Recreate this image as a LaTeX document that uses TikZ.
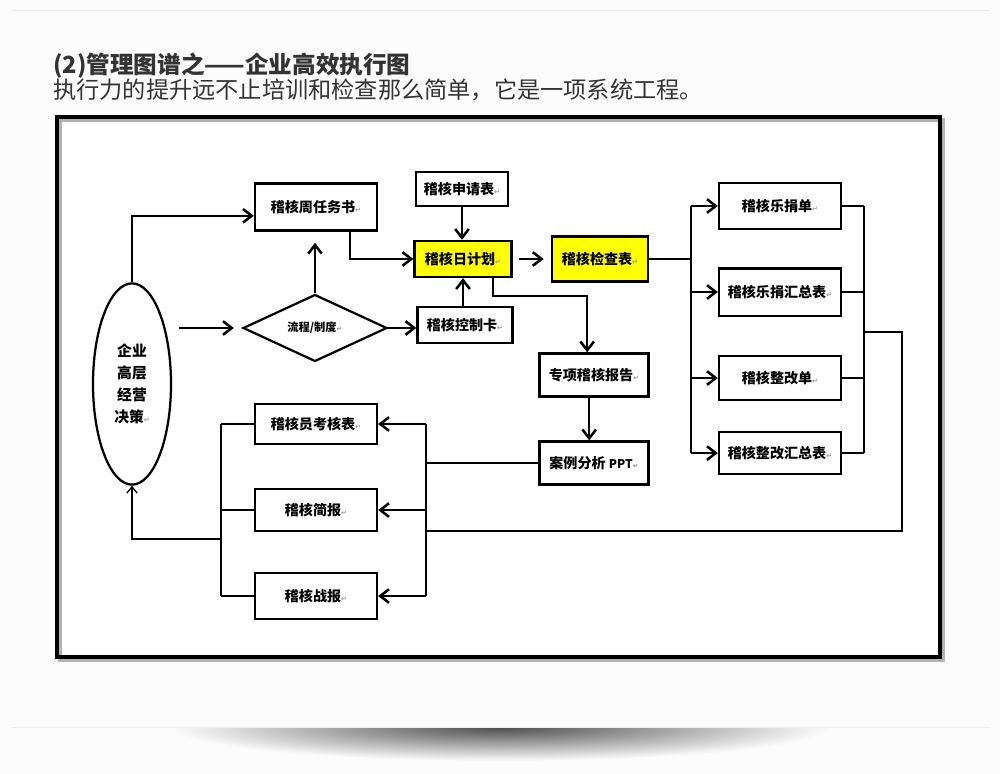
\documentclass[tikz,border=0pt]{standalone}
\usepackage{fontspec}
\setmainfont{Noto Sans CJK SC}
\newfontfamily\markfont{DejaVu Sans}
\usetikzlibrary{shapes,arrows.meta,positioning}
\definecolor{ink}{HTML}{333333}
\definecolor{hl}{HTML}{FFFF00}
\newcommand{\crmark}{{\markfont\fontsize{5}{5}\selectfont\color{black!40}↵}}

\begin{document}
\begin{tikzpicture}[x=0.025cm,y=-0.025cm,node distance=2.15cm,font=\bfseries\fontsize{10}{12}\selectfont]
\tikzstyle{box}=[draw,line width=1.6pt,inner sep=0pt,minimum width=3.05cm,minimum height=1.1cm]
\tikzstyle{hot}=[box,fill=hl]
\tikzstyle{link}=[line width=1.8pt]
\tikzstyle{arr}=[link,-{Straight Barb[length=2.2mm,width=3.4mm]}]
\useasboundingbox (0,0) rectangle (1000,774);
\fill[black!1] (0,0) rectangle (1000,774);
\draw[black!8] (12,10) -- (990,10);
\begin{scope}
\clip (0,727) rectangle (1000,774);
\shade[inner color=black!70,outer color=black!1] (500,727) ellipse (330 and 34);
\end{scope}
\draw[black!8] (12,727) -- (990,727);

\node[anchor=base west,inner sep=0,text=ink,font=\bfseries\fontsize{16.8}{20}\selectfont] (title) at (53,74) {(2)管理图谱之——企业高效执行图};
\node[anchor=base west,inner sep=0,text=ink,font=\mdseries\fontsize{16.5}{20}\selectfont] (sub) at (53,99) {执行力的提升远不止培训和检查那么简单，它是一项系统工程。};

\fill[white] (57,117) rectangle (940,657);
\draw[black!30,line width=3pt] (60,120) rectangle (943,660);
\draw[line width=2.6pt] (57,117) rectangle (940,657);

\node[box,minimum height=1.175cm] (week) at (316,207) {稽核周任务书\crmark};
\node[box,minimum width=2.3cm,minimum height=0.85cm] (apply) at (462,189) {稽核申请表\crmark};
\node[hot,minimum width=2.425cm,minimum height=0.9cm] (plan) at (463,259) {稽核日计划\crmark};
\node[box,minimum width=2.375cm,minimum height=0.9cm] (card) at (465,325) {稽核控制卡\crmark};
\node[hot,minimum width=2.4cm,minimum height=1.125cm] (check) at (600,259) {稽核检查表\crmark};
\node[draw,diamond,line width=1.6pt,inner sep=0pt,minimum width=3.6cm,minimum height=1.65cm,font=\bfseries\fontsize{8}{10}\selectfont] (flow) at (315,328) {流程/制度\crmark};
\node[draw,ellipse,line width=1.6pt,inner sep=0pt,minimum width=1.95cm,minimum height=5.03cm,align=center,font=\bfseries\fontsize{10.5}{15.6}\selectfont] (boss) at (132,384) {企业\\高层\\经营\\决策\crmark};
\node[box,minimum width=2.725cm,minimum height=1.075cm] (topic) at (594,375) {专项稽核报告\crmark};
\node[box,minimum width=2.725cm,minimum height=1.075cm] (case) at (594,463) {案例分析 {\fontsize{8.5}{10}\selectfont PPT}\crmark};

\node[box,minimum height=1cm] (exam) at (316,424) {稽核员考核表\crmark};
\node[box,minimum height=1.05cm,below of=exam] (brief) {稽核简报\crmark};
\node[box,minimum height=1.15cm,below of=brief] (battle) {稽核战报\crmark};

\node[box,minimum height=1.15cm] (fine) at (780,206) {稽核乐捐单\crmark};
\node[box,minimum height=1.18cm,below of=fine] (finesum) {稽核乐捐汇总表\crmark};
\node[box,below of=finesum] (fix) {稽核整改单\crmark};
\node[box,minimum height=1.05cm,below of=fix,node distance=1.875cm] (fixsum) {稽核整改汇总表\crmark};

\coordinate (split) at (691,259);
\coordinate (join) at (864,332);
\coordinate (loop) at (902,531);
\coordinate (merge) at (426,531);
\coordinate (gather) at (221,539);

\draw[arr] (boss.north) |- ([yshift=-0.22cm]week.west);
\draw[arr,shorten <=0.18cm,shorten >=0.2cm] (flow.west -| boss.east) -- (flow.west);
\draw[arr,shorten >=0.28cm] (flow.north) -- (flow.north |- week.south);
\draw[arr] ([xshift=0.85cm]week.south) |- (plan.west);
\draw[arr] (apply.south) -- (apply.south |- plan.north);
\draw[arr] ([xshift=-0.05cm]card.north) -- ([xshift=-0.05cm]card.north |- plan.south);
\draw[arr] (flow.east) -- (flow.east -| card.west);
\draw[arr,shorten <=0.15cm,shorten >=0.18cm] (plan.east) -- (plan.east -| check.west);
\draw[arr] ([xshift=0.75cm]plan.south) -- ++(0,18) -| ([xshift=-0.17cm]topic.north);
\draw[arr] ([xshift=-0.12cm]topic.south) -- ([xshift=-0.12cm]case.north);

\draw[link] (check.east) -- (check.east -| split);
\draw[link] (split |- fine) -- (split |- fixsum);
\draw[link] (join |- fine) -- (join |- fixsum);
\foreach \n in {fine,finesum,fix,fixsum} {
  \draw[arr] (split |- \n) -- (\n.west);
  \draw[link] (\n.east) -- (\n.east -| join);
}
\draw[link] (join) -| (loop) -- (merge);

\draw[link] (case.west) -- (case.west -| merge);
\draw[link] (merge |- exam) -- (merge |- battle);
\draw[link] (gather |- exam) -- (gather |- battle);
\foreach \n in {exam,brief,battle} {
  \draw[arr] (merge |- \n) -- (\n.east);
  \draw[link] (\n.west) -- (\n.west -| gather);
}
\draw[link,-{Straight Barb[length=1.6mm,width=2.6mm,line width=0.9pt]}] (gather) -| (boss.south);
\end{tikzpicture}
\end{document}
